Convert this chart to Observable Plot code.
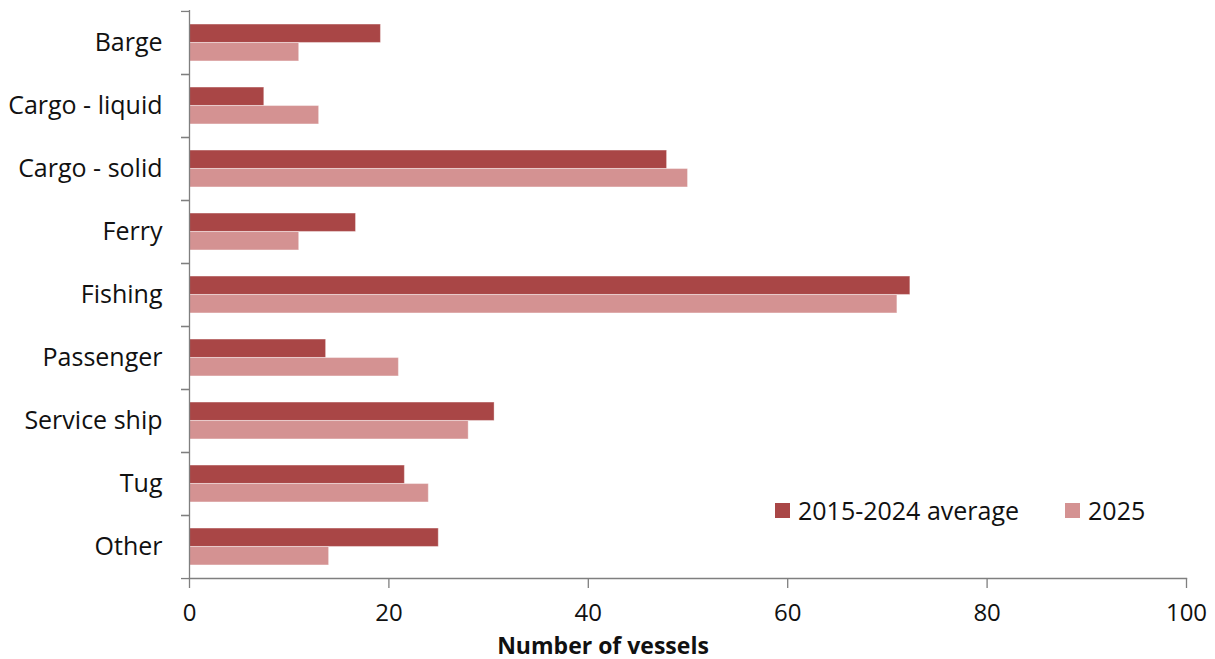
<!DOCTYPE html>
<html>
<head>
<meta charset="utf-8">
<script src="https://cdn.jsdelivr.net/npm/d3@7"></script>
<script src="https://cdn.jsdelivr.net/npm/@observablehq/plot@0.6"></script>
<style>
  html, body { margin: 0; padding: 0; background: #fff; }
  #wrap { position: relative; width: 1215px; height: 659px; font-family: "Open Sans", "Noto Sans", sans-serif; }
  #legend { position: absolute; left: 775px; top: 493px; display: flex; align-items: center; font-size: 25px; color: #111; }
  #legend .sw { width: 15px; height: 15px; display: inline-block; margin-right: 8px; }
  #legend .item { display: flex; align-items: center; margin-right: 46px; }
</style>
</head>
<body>
<div id="wrap">
  <div id="chart"></div>
  <div id="legend"></div>
</div>
<script>
const categories = ["Barge", "Cargo - liquid", "Cargo - solid", "Ferry", "Fishing", "Passenger", "Service ship", "Tug", "Other"];
const seriesNames = ["2015-2024 average", "2025"];
const avgValues = [19.2, 7.5, 47.9, 16.7, 72.3, 13.7, 30.6, 21.6, 25.0];
const y2025Values = [11, 13, 50, 11, 71, 21, 28, 24, 14];
const xTicks = [0, 20, 40, 60, 80, 100];
const colors = ["#a94646", "#d49292"];

const avgData = categories.map((c, i) => ({category: c, value: avgValues[i]}));
const newData = categories.map((c, i) => ({category: c, value: y2025Values[i]}));

const W = 1215, H = 659;
const marginTop = 10, marginBottom = 81, marginLeft = 189, marginRight = 29;
const step = (H - marginTop - marginBottom) / categories.length;
const barH = 18.5;
const outer = step / 2 - barH;

const chart = Plot.plot({
  width: W,
  height: H,
  marginTop, marginBottom, marginLeft, marginRight,
  style: {fontFamily: "'Open Sans', 'Noto Sans', sans-serif", fontSize: "25px", color: "#111", background: "#fff"},
  x: {domain: [0, 100]},
  y: {domain: categories, padding: 0},
  marks: [
    Plot.barX(avgData, {x: "value", y: "category", fill: colors[0], insetTop: outer, insetBottom: step / 2, stroke: "#fff", strokeOpacity: 0.35, strokeWidth: 1}),
    Plot.barX(newData, {x: "value", y: "category", fill: colors[1], insetTop: step / 2, insetBottom: outer, stroke: "#fff", strokeOpacity: 0.35, strokeWidth: 1}),
    Plot.ruleX([0], {stroke: "#7f7f7f", strokeWidth: 1.3}),
    Plot.axisY({tickSize: 0, tickPadding: 27, label: null, fontSize: 25}),
    Plot.axisY({tickSize: 8, text: null, label: null, dy: -step / 2, stroke: "#7f7f7f", strokeWidth: 1.3}),
    Plot.axisY({tickSize: 8, text: null, label: null, dy: step / 2, stroke: "#7f7f7f", strokeWidth: 1.3}),
    Plot.axisX({ticks: xTicks, tickSize: 10, tickPadding: 15, label: null, stroke: "#7f7f7f", strokeWidth: 1.3, fontSize: 24}),
    Plot.frame({anchor: "bottom", stroke: "#7f7f7f", strokeWidth: 1.3}),
    Plot.text(["Number of vessels"], {frameAnchor: "bottom", dy: 75, dx: -85, fontWeight: "bold", fontSize: 23, fill: "#111"})
  ]
});
document.getElementById("chart").appendChild(chart);

const legend = document.getElementById("legend");
seriesNames.forEach((s, i) => {
  const item = document.createElement("div");
  item.className = "item";
  item.innerHTML = `<span class="sw" style="background:${colors[i]}"></span><span>${s}</span>`;
  legend.appendChild(item);
});
</script>
</body>
</html>
